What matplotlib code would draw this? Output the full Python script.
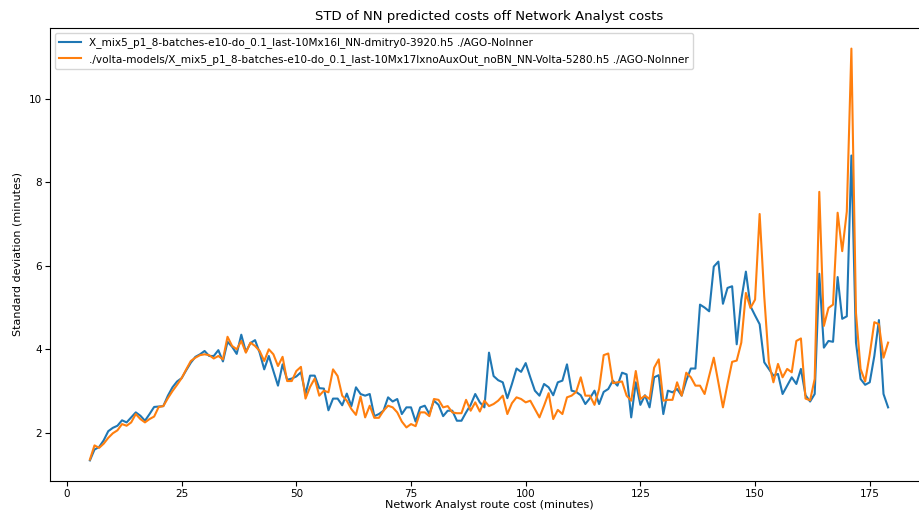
import numpy as np
from matplotlib import pyplot as plt

# route cost bins (minutes)
route_cost = np.arange(5, 180)

# STD of NN prediction vs Network Analyst, model 1 (dmitry0-3920)
std_dmitry = [
    1.34, 1.60, 1.66, 1.82, 2.04, 2.12, 2.17, 2.30, 2.25, 2.37,
    2.49, 2.41, 2.29, 2.45, 2.62, 2.63, 2.64, 2.89, 3.09, 3.23,
    3.31, 3.50, 3.68, 3.82, 3.88, 3.96, 3.84, 3.84, 3.98, 3.71,
    4.18, 4.06, 3.89, 4.35, 3.94, 4.15, 4.22, 3.92, 3.52, 3.84,
    3.48, 3.13, 3.64, 3.27, 3.30, 3.35, 3.45, 2.93, 3.37, 3.37,
    3.07, 3.06, 2.54, 2.82, 2.82, 2.66, 2.94, 2.64, 3.09, 2.93,
    2.89, 2.93, 2.40, 2.45, 2.53, 2.85, 2.75, 2.81, 2.45, 2.61,
    2.61, 2.27, 2.61, 2.65, 2.45, 2.77, 2.67, 2.40, 2.53, 2.53,
    2.29, 2.29, 2.49, 2.67, 2.93, 2.73, 2.61, 3.92, 3.36, 3.26,
    3.21, 2.83, 3.17, 3.54, 3.46, 3.67, 3.33, 3.01, 2.89, 3.17,
    3.09, 2.90, 3.21, 3.25, 3.64, 3.01, 2.98, 2.90, 2.69, 2.83,
    3.01, 2.69, 2.98, 3.05, 3.25, 3.13, 3.44, 3.40, 2.37, 3.21,
    2.67, 2.90, 2.61, 3.33, 3.38, 2.45, 3.01, 2.97, 3.05, 2.89,
    3.25, 3.54, 3.54, 5.07, 5.00, 4.91, 5.98, 6.10, 5.09, 5.47,
    5.51, 4.12, 5.19, 5.86, 5.03, 4.81, 4.60, 3.69, 3.53, 3.37,
    3.41, 2.93, 3.13, 3.33, 3.17, 3.53, 2.90, 2.75, 2.93, 5.81,
    4.04, 4.20, 4.18, 5.73, 4.73, 4.79, 8.64, 4.16, 3.29, 3.15,
    3.21, 3.84, 4.70, 2.93, 2.61,
]

# model 2 (volta NN-Volta-5280)
std_volta = [
    1.36, 1.70, 1.64, 1.74, 1.88, 1.99, 2.06, 2.21, 2.17, 2.25,
    2.45, 2.33, 2.25, 2.33, 2.39, 2.62, 2.64, 2.83, 3.00, 3.15,
    3.31, 3.52, 3.72, 3.80, 3.86, 3.88, 3.86, 3.78, 3.84, 3.76,
    4.30, 4.08, 4.00, 4.20, 3.92, 4.16, 4.08, 3.96, 3.72, 4.00,
    3.88, 3.60, 3.82, 3.24, 3.24, 3.48, 3.58, 2.82, 3.10, 3.30,
    2.89, 3.01, 2.97, 3.52, 3.36, 2.89, 2.77, 2.57, 2.43, 2.87,
    2.37, 2.65, 2.36, 2.36, 2.53, 2.65, 2.61, 2.49, 2.27, 2.13,
    2.21, 2.16, 2.49, 2.49, 2.40, 2.81, 2.79, 2.61, 2.64, 2.49,
    2.47, 2.47, 2.79, 2.53, 2.73, 2.51, 2.77, 2.64, 2.69, 2.77,
    2.89, 2.45, 2.71, 2.85, 2.81, 2.73, 2.77, 2.57, 2.37, 2.65,
    2.95, 2.33, 2.55, 2.45, 2.85, 2.89, 2.98, 3.33, 2.89, 2.89,
    2.67, 3.05, 3.86, 3.90, 3.19, 3.21, 3.23, 2.89, 2.77, 3.48,
    2.81, 2.89, 2.81, 3.56, 3.76, 2.77, 2.79, 2.79, 3.21, 2.89,
    3.44, 3.33, 3.13, 3.13, 2.93, 3.37, 3.80, 3.21, 2.61, 3.17,
    3.70, 3.73, 4.16, 5.35, 4.99, 5.19, 7.24, 5.27, 3.69, 3.21,
    3.65, 3.33, 3.53, 3.45, 4.20, 4.26, 2.82, 2.78, 3.29, 7.77,
    4.56, 4.99, 5.07, 7.27, 6.35, 7.30, 11.20, 4.87, 3.53, 3.23,
    3.88, 4.65, 4.60, 3.80, 4.16,
]

labels = [
    "X_mix5_p1_8-batches-e10-do_0.1_last-10Mx16l_NN-dmitry0-3920.h5 ./AGO-NoInner",
    "./volta-models/X_mix5_p1_8-batches-e10-do_0.1_last-10Mx17lxnoAuxOut_noBN_NN-Volta-5280.h5 ./AGO-NoInner",
]

fig = plt.figure(figsize=(9.2, 5.13), dpi=100)
# axes run past the right edge, like the cropped original
ax = fig.add_axes([50 / 920, 32 / 513, 878 / 920, 453 / 513])

ax.plot(route_cost, std_dmitry, color="#1f77b4", lw=1.5, label=labels[0])
ax.plot(route_cost, std_volta, color="#ff7f0e", lw=1.5, label=labels[1])

ax.set_title("STD of NN predicted costs off Network Analyst costs", fontsize=9.5)
ax.set_xlabel("Network Analyst route cost (minutes)", fontsize=8, labelpad=0.5)
ax.set_ylabel("Standard deviation (minutes)", fontsize=8)
ax.set_xticks([0, 25, 50, 75, 100, 125, 150, 175])
ax.set_yticks([2, 4, 6, 8, 10])
ax.tick_params(labelsize=7.5, pad=2.5)
ax.legend(loc="upper left", fontsize=7.6)

fig.savefig("out.png", dpi=100)
